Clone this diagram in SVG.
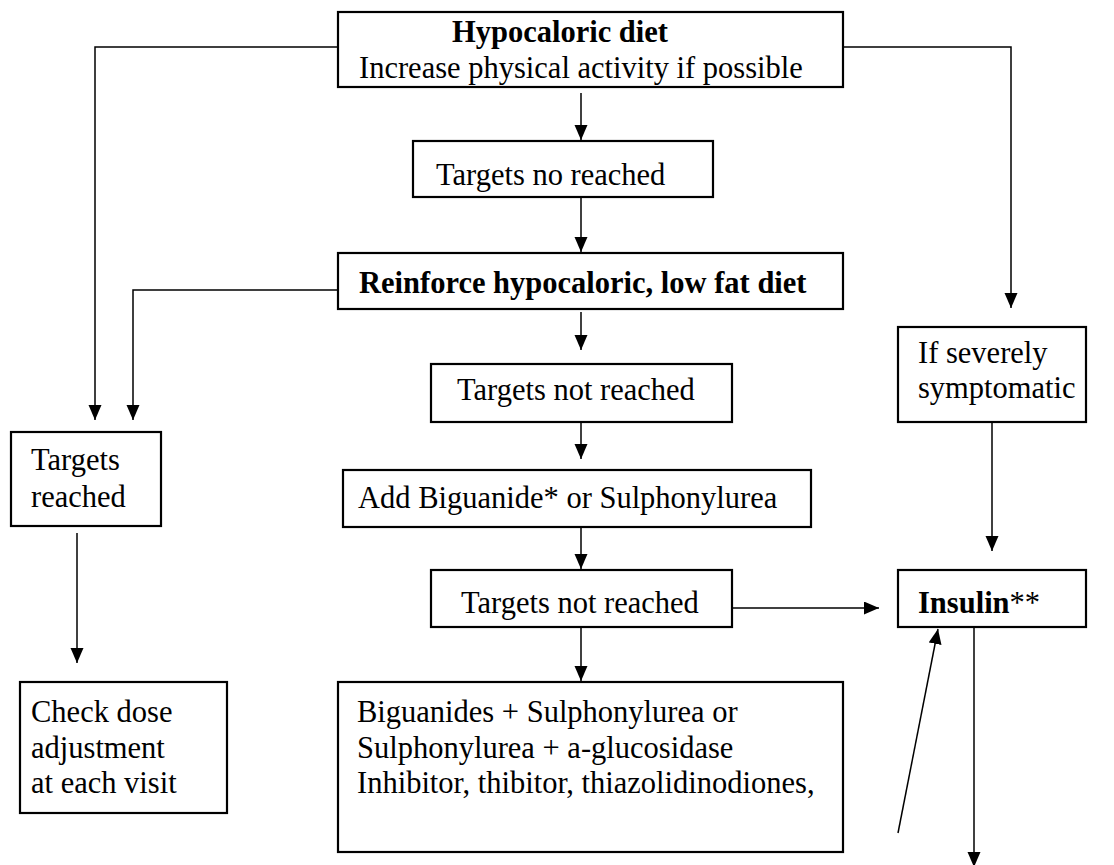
<svg xmlns="http://www.w3.org/2000/svg" width="1114" height="865" viewBox="0 0 1114 865">
<style>
.box{fill:#fff;stroke:#000;stroke-width:2.2}
.t{font-family:"Liberation Serif","Times New Roman",serif;font-size:30.5px;fill:#000}
.b{font-weight:bold}
.c{fill:none;stroke:#000;stroke-width:1.5}
</style>
<defs>
<marker id="ah" markerUnits="userSpaceOnUse" markerWidth="16" markerHeight="14" refX="15" refY="6.5" orient="auto">
<path d="M0,0 L15,6.5 L0,13 z" fill="#000"/>
</marker>
</defs>
<rect width="1114" height="865" fill="#fff"/>
<g id="connectors">
<polyline class="c" points="338,47 95,47 95,420" marker-end="url(#ah)"/>
<polyline class="c" points="338,290 133,290 133,420" marker-end="url(#ah)"/>
<polyline class="c" points="843,47 1011,47 1011,308" marker-end="url(#ah)"/>
<line class="c" x1="581" y1="93" x2="581" y2="140" marker-end="url(#ah)"/>
<line class="c" x1="581" y1="198" x2="581" y2="252" marker-end="url(#ah)"/>
<line class="c" x1="581" y1="312" x2="581" y2="350" marker-end="url(#ah)"/>
<line class="c" x1="581" y1="423" x2="581" y2="459" marker-end="url(#ah)"/>
<line class="c" x1="581" y1="528" x2="581" y2="569" marker-end="url(#ah)"/>
<line class="c" x1="733" y1="608" x2="879" y2="608" marker-end="url(#ah)"/>
<line class="c" x1="581" y1="628" x2="581" y2="681" marker-end="url(#ah)"/>
<line class="c" x1="992" y1="423" x2="992" y2="551" marker-end="url(#ah)"/>
<line class="c" x1="77" y1="533" x2="77" y2="663" marker-end="url(#ah)"/>
<line class="c" x1="898" y1="833" x2="938" y2="629" marker-end="url(#ah)"/>
<line class="c" x1="974" y1="628" x2="974" y2="867" marker-end="url(#ah)"/>
</g>
<g id="n-hypocaloric">
<rect class="box" x="338" y="12" width="505" height="75"/>
<text class="t b" x="452" y="42">Hypocaloric diet</text>
<text class="t" x="359" y="78">Increase physical activity if possible</text>
</g>
<g id="n-targets-no-reached">
<rect class="box" x="413" y="141" width="300" height="56"/>
<text class="t" x="436" y="185">Targets no reached</text>
</g>
<g id="n-reinforce">
<rect class="box" x="338" y="253" width="505" height="56"/>
<text class="t b" x="359" y="293">Reinforce hypocaloric, low fat diet</text>
</g>
<g id="n-targets-not-reached-1">
<rect class="box" x="431" y="364" width="301" height="58"/>
<text class="t" x="457" y="400">Targets not reached</text>
</g>
<g id="n-add-biguanide">
<rect class="box" x="343" y="470" width="468" height="57"/>
<text class="t" x="358" y="508">Add Biguanide* or Sulphonylurea</text>
</g>
<g id="n-targets-not-reached-2">
<rect class="box" x="431" y="570" width="301" height="57"/>
<text class="t" x="461" y="613">Targets not reached</text>
</g>
<g id="n-combinations">
<rect class="box" x="338" y="682" width="505" height="170"/>
<text class="t" x="357" y="722">Biguanides + Sulphonylurea or</text>
<text class="t" x="357" y="758">Sulphonylurea + a-glucosidase</text>
<text class="t" x="357" y="793">Inhibitor, thibitor, thiazolidinodiones,</text>
</g>
<g id="n-severely">
<rect class="box" x="898" y="327" width="188" height="95"/>
<text class="t" x="918" y="363">If severely</text>
<text class="t" x="918" y="398">symptomatic</text>
</g>
<g id="n-insulin">
<rect class="box" x="898" y="570" width="188" height="57"/>
<text class="t" x="918" y="613"><tspan class="b">Insulin</tspan>**</text>
</g>
<g id="n-targets-reached">
<rect class="box" x="11" y="432" width="150" height="94"/>
<text class="t" x="31" y="470">Targets</text>
<text class="t" x="31" y="507">reached</text>
</g>
<g id="n-check-dose">
<rect class="box" x="20" y="682" width="207" height="131"/>
<text class="t" x="31" y="722">Check dose</text>
<text class="t" x="31" y="758">adjustment</text>
<text class="t" x="31" y="793">at each visit</text>
</g>
</svg>
